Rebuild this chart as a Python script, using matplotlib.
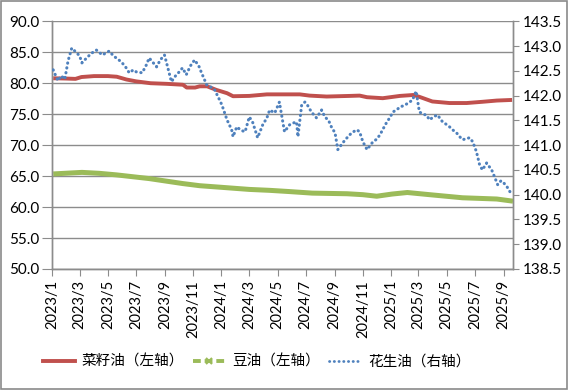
import matplotlib
matplotlib.use("Agg")
import matplotlib.pyplot as plt
from matplotlib.lines import Line2D
from matplotlib.patches import Rectangle
import pandas as pd

plt.rcParams['font.family'] = ['Lato', 'Noto Sans CJK SC', 'DejaVu Sans']

# 菜籽油 (left axis)
rape_dates = ["2023-01-03", "2023-02-01", "2023-02-20", "2023-03-05", "2023-04-01", "2023-05-01",
              "2023-05-20", "2023-06-10", "2023-07-01", "2023-08-01", "2023-09-05", "2023-10-10",
              "2023-10-18", "2023-11-05", "2023-11-15", "2023-12-01", "2023-12-21", "2024-01-13",
              "2024-01-26", "2024-03-01", "2024-04-08", "2024-06-18", "2024-07-09", "2024-08-15",
              "2024-10-04", "2024-10-25", "2024-11-10", "2024-12-14", "2025-01-20", "2025-02-18",
              "2025-03-03", "2025-03-31", "2025-05-07", "2025-06-13", "2025-07-17", "2025-08-17",
              "2025-09-19"]
rape_vals = [80.8, 80.75, 80.7, 81.0, 81.15, 81.15,
             81.05, 80.6, 80.3, 80.0, 79.9, 79.75,
             79.3, 79.3, 79.5, 79.5, 78.92, 78.39,
             77.9, 77.95, 78.2, 78.2, 78.0, 77.85,
             77.95, 78.0, 77.74, 77.58, 77.95, 78.1,
             77.8, 77.05, 76.8, 76.8, 77.0, 77.2,
             77.3]

# 豆油 (left axis)
soy_dates = ["2023-01-03", "2023-03-06", "2023-04-12", "2023-05-19", "2023-07-29", "2023-10-09",
             "2023-11-15", "2023-12-30", "2024-03-01", "2024-04-14", "2024-05-27", "2024-07-15",
             "2024-09-28", "2024-11-01", "2024-12-01", "2025-01-03", "2025-02-05", "2025-03-25",
             "2025-06-04", "2025-08-17", "2025-09-21"]
soy_vals = [65.35, 65.6, 65.45, 65.2, 64.6, 63.8,
            63.45, 63.2, 62.85, 62.7, 62.5, 62.25,
            62.15, 62.0, 61.75, 62.1, 62.35, 62.0,
            61.5, 61.3, 60.95]

# 花生油 (right axis)
peanut_dates = ["2023-01-03", "2023-01-13", "2023-01-20", "2023-01-28", "2023-02-04", "2023-02-12",
                "2023-02-23", "2023-03-01", "2023-03-06", "2023-03-15", "2023-03-26", "2023-04-06",
                "2023-04-19", "2023-05-04", "2023-05-13", "2023-05-19", "2023-05-30", "2023-06-08",
                "2023-06-16", "2023-06-25", "2023-07-01", "2023-07-14", "2023-07-23", "2023-07-29",
                "2023-08-07", "2023-08-14", "2023-08-22", "2023-08-31", "2023-09-04", "2023-09-15",
                "2023-09-24", "2023-10-02", "2023-10-09", "2023-10-17", "2023-10-26", "2023-11-04",
                "2023-11-13", "2023-11-19", "2023-11-30", "2023-12-08", "2023-12-17", "2023-12-26",
                "2024-01-02", "2024-01-13", "2024-01-23", "2024-01-26", "2024-02-03", "2024-02-12",
                "2024-02-21", "2024-03-01", "2024-03-08", "2024-03-19", "2024-03-30", "2024-04-08",
                "2024-04-14", "2024-04-25", "2024-05-05", "2024-05-09", "2024-05-16", "2024-05-27",
                "2024-06-05", "2024-06-11", "2024-06-14", "2024-06-22", "2024-06-29", "2024-07-05",
                "2024-07-13", "2024-07-24", "2024-08-04", "2024-08-11", "2024-08-19", "2024-08-26",
                "2024-09-02", "2024-09-08", "2024-09-19", "2024-09-28", "2024-10-08", "2024-10-19",
                "2024-10-25", "2024-11-01", "2024-11-10", "2024-11-23", "2024-12-01", "2024-12-08",
                "2024-12-16", "2024-12-23", "2024-12-29", "2025-01-05", "2025-01-14", "2025-01-20",
                "2025-01-29", "2025-02-07", "2025-02-16", "2025-02-24", "2025-02-28", "2025-03-03",
                "2025-03-12", "2025-03-18", "2025-03-25", "2025-04-02", "2025-04-11", "2025-04-22",
                "2025-04-30", "2025-05-07", "2025-05-15", "2025-05-22", "2025-05-28", "2025-06-04",
                "2025-06-13", "2025-06-19", "2025-06-26", "2025-07-04", "2025-07-11", "2025-07-17",
                "2025-07-26", "2025-08-02", "2025-08-06", "2025-08-13", "2025-08-19", "2025-08-26",
                "2025-08-30", "2025-09-08", "2025-09-15", "2025-09-19"]
peanut_vals = [142.52, 142.30, 142.40, 142.33, 142.70, 142.96,
               142.86, 142.80, 142.66, 142.75, 142.85, 142.92,
               142.82, 142.90, 142.80, 142.76, 142.68, 142.58,
               142.46, 142.52, 142.48, 142.46, 142.62, 142.76,
               142.66, 142.58, 142.72, 142.82, 142.68, 142.28,
               142.40, 142.48, 142.56, 142.42, 142.60, 142.72,
               142.60, 142.46, 142.22, 142.18, 142.12, 141.95,
               141.81, 141.51, 141.31, 141.17, 141.37, 141.30,
               141.27, 141.57, 141.47, 141.15, 141.41, 141.55,
               141.71, 141.65, 141.87, 141.65, 141.27, 141.41,
               141.45, 141.47, 141.17, 141.81, 141.87, 141.80,
               141.67, 141.55, 141.71, 141.57, 141.50, 141.35,
               141.25, 140.91, 141.05, 141.15, 141.25, 141.31,
               141.27, 141.07, 140.91, 141.07, 141.12, 141.21,
               141.35, 141.47, 141.55, 141.67, 141.72, 141.77,
               141.80, 141.85, 141.91, 142.09, 141.85, 141.67,
               141.62, 141.61, 141.51, 141.57, 141.61, 141.47,
               141.42, 141.37, 141.30, 141.25, 141.18, 141.11,
               141.13, 141.15, 141.07, 140.87, 140.60, 140.50,
               140.64, 140.55, 140.50, 140.34, 140.20, 140.28,
               140.26, 140.16, 140.05, 140.10]

left_ticks = [50, 55, 60, 65, 70, 75, 80, 85, 90]
right_ticks = [138.5, 139.0, 139.5, 140.0, 140.5, 141.0, 141.5, 142.0, 142.5, 143.0, 143.5]
series_names = ["菜籽油（左轴）", "豆油（左轴）", "花生油（右轴）"]

RED = "#C0504D"
GREEN = "#9BBB59"
BLUE = "#4F81BD"
GRID = "#8C8C8C"

fig = plt.figure(figsize=(5.69, 3.90), dpi=100)
fig.patches.append(Rectangle((0.002, 0.003), 0.995, 0.994, transform=fig.transFigure,
                             fill=False, edgecolor="#8A8A8A", linewidth=1.2))
ax = fig.add_axes([0.0919, 0.3103, 0.8097, 0.6351])
ax2 = ax.twinx()

rd = pd.to_datetime(rape_dates)
sd = pd.to_datetime(soy_dates)
pdt = pd.to_datetime(peanut_dates)

ax.plot(rd, rape_vals, color=RED, lw=2.8, solid_capstyle='butt', zorder=3)
ax.plot(sd, soy_vals, color=GREEN, lw=3.6, solid_capstyle='butt', zorder=3)
ax2.plot(pdt, peanut_vals, color=BLUE, lw=2.2, linestyle=(0, (0.1, 1.5)),
         dash_capstyle='round', zorder=4)

ax.set_ylim(50, 90)
ax.set_yticks(left_ticks)
ax.set_yticklabels([f"{v:.1f}" for v in left_ticks])
ax2.set_ylim(138.5, 143.5)
ax2.set_yticks(right_ticks)
ax2.set_yticklabels([f"{v:.1f}" for v in right_ticks])

ax.set_xlim(pd.Timestamp("2023-01-01"), pd.Timestamp("2025-09-21"))
xt = pd.date_range("2023-01-01", "2025-09-01", freq="2MS")
ax.set_xticks(xt)
ax.set_xticklabels([f"{d.year}/{d.month}" for d in xt], rotation=90)

ax.grid(axis='y', color=GRID, lw=1.0)
ax.set_axisbelow(True)
for a in (ax, ax2):
    a.spines['top'].set_visible(False)
    for s in ('left', 'right', 'bottom'):
        a.spines[s].set_color(GRID)
        a.spines[s].set_linewidth(1.0)
ax.tick_params(axis='y', length=7, color=GRID, labelsize=11, pad=2)
ax.tick_params(axis='x', length=5, color=GRID, labelsize=10.5, pad=3)
ax2.tick_params(axis='y', length=4, color=GRID, labelsize=11, pad=3)

handles = [
    Line2D([], [], color=RED, lw=2.8),
    Line2D([], [], color=GREEN, lw=2.8, linestyle=(0, (2.0, 1.0)), marker='x', markersize=4,
           markeredgewidth=1.5),
    Line2D([], [], color=BLUE, lw=2.0, linestyle=(0, (0.1, 1.6)), dash_capstyle='round'),
]
fig.legend(handles, series_names, loc='center', bbox_to_anchor=(0.451, 0.072), ncol=3,
           frameon=False, fontsize=10.5, handlelength=2.2, columnspacing=0.6, handletextpad=0.5)

fig.savefig("out.png", dpi=100)
